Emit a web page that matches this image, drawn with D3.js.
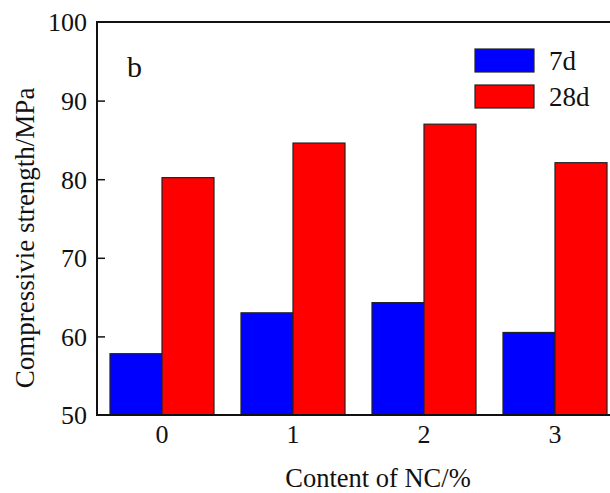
<!DOCTYPE html>
<html><head><meta charset="utf-8">
<script src="https://cdn.jsdelivr.net/npm/d3@7"></script>
</head><body style="margin:0;background:#fff"><svg id="c" width="610" height="493" style="display:block;font-family:'Liberation Serif','Times New Roman',Times,serif"></svg>
<script>
const categories = ["0","1","2","3"];
const seriesNames = ["7d","28d"];
const values7d = [57.8, 63.0, 64.3, 60.5];
const values28d = [80.2, 84.6, 87.0, 82.1];
const yTicks = [50,60,70,80,90,100];
const colors = ["#0000ff","#ff0000"];

const FF = "'Liberation Serif', 'Times New Roman', Times, serif";
const svg = d3.select("#c");
const mLeft = 97, mTop = 22, mBottom = 415;
const y = d3.scaleLinear().domain([50,100]).range([mBottom, mTop]);
const x = d3.scaleBand().domain(categories).range([96.5, 620.5]).paddingInner(0.206).paddingOuter(0.103);
const xs = d3.scaleBand().domain(seriesNames).range([0, x.bandwidth()]);
const data = [values7d, values28d];

const g = svg.append("g");
categories.forEach((c,i)=>{
  seriesNames.forEach((s,j)=>{
    const v = data[j][i];
    g.append("rect").attr("x", x(c)+xs(s)).attr("y", y(v))
      .attr("width", xs.bandwidth()).attr("height", y(50)-y(v))
      .attr("fill", colors[j]).attr("stroke","#222").attr("stroke-width",1.2);
  });
});

const ya = svg.append("g").attr("transform",`translate(${mLeft},0)`)
  .call(d3.axisLeft(y).tickValues(yTicks).tickSize(-8).tickPadding(10).tickSizeOuter(0))
  .attr("font-family", null).attr("font-size", null);
ya.select(".domain").remove();
ya.selectAll(".tick line").attr("stroke","#111").attr("stroke-width",1.5).filter(d=>d===50||d===100).remove();
ya.selectAll("text").attr("font-family",FF).attr("font-size",26).attr("fill","#111").attr("dy","0.34em");

const xa = svg.append("g").attr("transform",`translate(0,${mBottom})`)
  .call(d3.axisBottom(x).tickSize(0).tickPadding(10))
  .attr("font-family", null).attr("font-size", null);
xa.select(".domain").remove();
xa.selectAll("text").attr("font-family",FF).attr("font-size",26).attr("fill","#111");

svg.append("line").attr("x1",mLeft).attr("x2",mLeft).attr("y1",mTop-1).attr("y2",mBottom+1).attr("stroke","#111").attr("stroke-width",2);
svg.append("line").attr("x1",mLeft-1).attr("x2",610).attr("y1",mBottom).attr("y2",mBottom).attr("stroke","#111").attr("stroke-width",2);
svg.append("line").attr("x1",mLeft-1).attr("x2",610).attr("y1",mTop).attr("y2",mTop).attr("stroke","#111").attr("stroke-width",2);

const T = (sel)=>sel.attr("font-family",FF).attr("fill","#111");
T(svg.append("text").attr("x",127).attr("y",77).attr("font-size",30).text("b"));
T(svg.append("text").attr("x",378).attr("y",487).attr("text-anchor","middle").attr("font-size",26.5).text("Content of NC/%"));
T(svg.append("text").attr("transform","translate(34,238) rotate(-90)").attr("text-anchor","middle").attr("font-size",27).text("Compressivie strength/MPa"));

seriesNames.forEach((s,j)=>{
  const ly = 49 + j*36;
  svg.append("rect").attr("x",475).attr("y",ly).attr("width",59).attr("height",23)
    .attr("fill",colors[j]).attr("stroke","#222").attr("stroke-width",1.2);
  T(svg.append("text").attr("x",549).attr("y",ly+21).attr("font-size",27).text(s));
});
</script></body></html>
